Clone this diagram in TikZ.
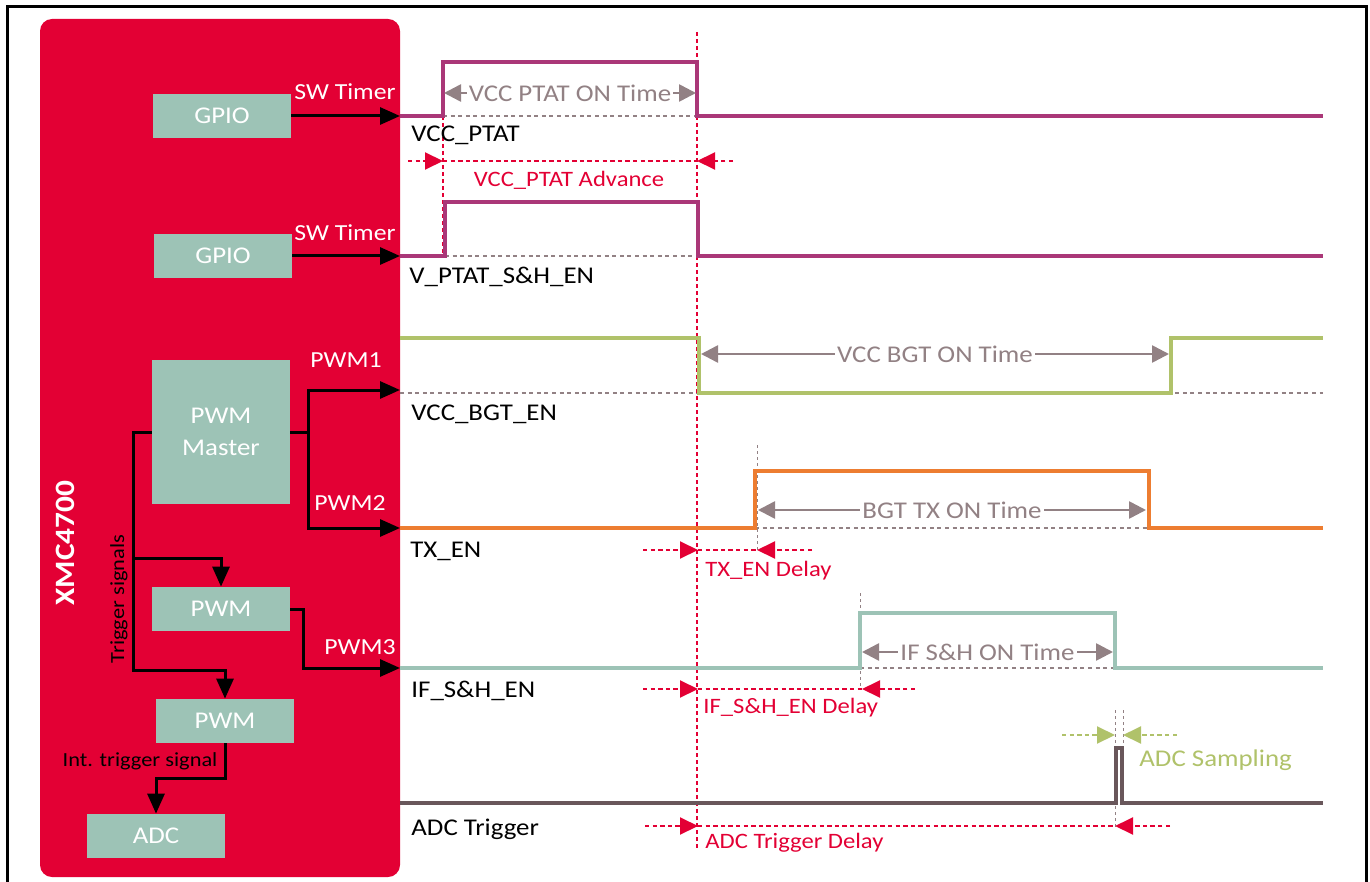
\documentclass[tikz,border=0pt]{standalone}
\usepackage{fontspec}
\setmainfont{Carlito}[FakeStretch=1.12]
\usetikzlibrary{arrows.meta}
\usetikzlibrary{positioning}

\definecolor{xmcred}{RGB}{227,0,52}
\definecolor{boxteal}{RGB}{157,195,182}
\definecolor{ptatpurple}{RGB}{170,55,120}
\definecolor{bgtgreen}{RGB}{176,194,106}
\definecolor{txorange}{RGB}{237,125,49}
\definecolor{adcgray}{RGB}{105,87,91}
\definecolor{dimgray}{RGB}{146,129,132}

\tikzset{
every node/.style={font=\fontsize{11.5}{14}\selectfont},
block/.style={ % Sets the properties for each module box
fill=boxteal, text=white, inner sep=0pt,
minimum width=69pt, minimum height=22pt,
align=center, font=\fontsize{12}{16}\selectfont},
wlabel/.style={text=white, inner sep=0pt},
small/.style={inner sep=0pt, font=\fontsize{10}{12}\selectfont},
sname/.style={anchor=west, inner sep=0pt, font=\fontsize{12}{14}\selectfont},
conn/.style={draw, line width=1.5pt, -{Triangle[length=10pt,width=8.5pt]}},
trace/.style={line width=2pt},
base/.style={dimgray, line width=1pt, dash pattern=on 2pt off 1.8pt},
vmark/.style={xmcred, line width=0.7pt, dash pattern=on 2pt off 1.5pt},
vtick/.style={dimgray, line width=0.5pt, dash pattern=on 1.5pt off 1.5pt},
ontime/.style={dimgray, line width=1.3pt,
{Triangle[length=8.5pt,width=8.5pt]}-{Triangle[length=8.5pt,width=8.5pt]}},
ontext/.style={fill=white, text=dimgray, inner sep=1pt, font=\fontsize{12}{14}\selectfont},
dline/.style={xmcred, line width=1pt, dash pattern=on 2.2pt off 1.6pt},
delay/.style={dline, -{Triangle[length=9pt,width=8.5pt]}},
sampling/.style={delay, bgtgreen},
dtext/.style={text=xmcred, inner sep=0pt, font=\fontsize{11}{13}\selectfont}}

\begin{document}
\begin{tikzpicture}[x=0.5pt, y=-0.5pt]
\useasboundingbox (0,0) rectangle (1370,882);
\draw[line width=1.5pt] (7,882) -- (7,7) -- (1366,7) -- (1366,882);
\fill[xmcred, rounded corners=6pt] (40,19) rectangle (400,877);
\node[rotate=90, text=white, font=\fontsize{14}{16}\selectfont\bfseries] (xmc) at (65,543) {XMC4700};

% modules inside the controller
\node[block] (gpio1) at (222,116) {GPIO};
\node[block] (gpio2) at (223,256) {GPIO};
\node[block, minimum height=72pt] (pwmm) at (221,432) {PWM\\Master};
\node[block] (pwma) at (221,609) {PWM};
\node[block] (pwmb) at (225,721) {PWM};
\node[block] (adc) at (156,836) {ADC};

% signal inputs
\coordinate (vcc) at (400,116);
\coordinate (sh) at (400,256);
\coordinate (bgt) at (400,390);
\coordinate (tx) at (400,528);
\coordinate (ifsh) at (400,668);
\coordinate (adctrig) at (400,803);

\draw[conn] (gpio1) -- (vcc);
\draw[conn] (gpio2) -- (sh);
\draw[conn] (pwmm.east) -- ++(18,0) |- (bgt);
\draw[conn] (pwmm.east) -- ++(18,0) |- (tx);
\draw[conn] (pwmm.west) -| (133,670) -| (pwmb.north);
\draw[conn] (133,558) -| (pwma.north);
\draw[conn] (pwma.east) -- ++(13,0) |- (ifsh);
\draw[conn] (pwmb.south) -- ++(0,35) -| (adc.north);

\node[wlabel] (sw1) at (345,92) {SW Timer};
\node[wlabel] (sw2) at (345,233) {SW Timer};
\node[wlabel] (pwm1) at (346,360) {PWM1};
\node[wlabel] (pwm2) at (350,503) {PWM2};
\node[wlabel] (pwm3) at (360,647) {PWM3};
\node[small, rotate=90] (trig) at (119,599) {Trigger signals};
\node[small] (inttrig) at (140,761) {Int. trigger signal};

% timing
\draw[base] (443,116) -- (697,116);
\draw[base] (445,256) -- (698,256);
\draw[base] (400,393) -- (1323,393);
\draw[base] (755,528) -- (1149,528);
\draw[base] (860,668) -- (1115,668);

\draw[vmark] (697,32) -- (697,850);
\draw[vmark] (443,116) -- (443,256);
\draw[vtick] (757,445) -- (757,550);
\draw[vtick] (860,593) -- (860,690);
\draw[vtick] (1115,710) -- (1115,830);
\draw[vtick] (1123,710) -- (1123,748);

\draw[trace, ptatpurple] (vcc) -- (443,116) -- (443,62) -- (697,62) -- (697,116) -- (1323,116);
\draw[trace, ptatpurple] (sh) -- (445,256) -- (445,202) -- (698,202) -- (698,256) -- (1323,256);
\draw[trace, bgtgreen] (400,338) -- (699,338) -- (699,393) -- (1171,393) -- (1171,338) -- (1323,338);
\draw[trace, txorange] (tx) -- (755,528) -- (755,471) -- (1149,471) -- (1149,528) -- (1323,528);
\draw[trace, boxteal] (ifsh) -- (860,668) -- (860,613) -- (1115,613) -- (1115,668) -- (1323,668);
\draw[trace, adcgray] (adctrig) -- (1116,803) -- (1116,748) -- (1122,748) -- (1122,803) -- (1323,803);

\draw[ontime] (444,93) -- node[ontext] (ptaton) {VCC PTAT ON Time} (696,93);
\draw[ontime] (701,354) -- node[ontext] (bgton) {VCC BGT ON Time} (1169,354);
\draw[ontime] (758,510) -- node[ontext] (txon) {BGT TX ON Time} (1146,510);
\draw[ontime] (862,652) -- node[ontext] (ifon) {IF S\&H ON Time} (1113,652);

\node[sname] (lvcc) at (411,135) {VCC\_PTAT};
\node[sname] (lsh) at (409,277) {V\_PTAT\_S\&H\_EN};
\node[sname] (lbgt) at (411,414) {VCC\_BGT\_EN};
\node[sname] (ltx) at (410,551) {TX\_EN};
\node[sname] (lif) at (411,691) {IF\_S\&H\_EN};
\node[sname] (ladc) at (411,829) {ADC Trigger};

% delays
\draw[delay] (408,161) -- (443,161);
\draw[dline] (443,161) -- (697,161);
\draw[delay] (733,161) -- (697,161);
\node[dtext] (adv) at (569,180) {VCC\_PTAT Advance};

\draw[delay] (643,550) -- (698,550);
\draw[dline] (698,550) -- (757,550);
\draw[delay] (812,550) -- (757,550);
\node[dtext, anchor=west] (txd) at (705,571) {TX\_EN Delay};

\draw[delay] (643,689) -- (698,689);
\draw[dline] (698,689) -- (862,689);
\draw[delay] (915,689) -- (862,689);
\node[dtext, anchor=west] (ifd) at (703,708) {IF\_S\&H\_EN Delay};

\draw[delay] (645,826) -- (698,826);
\draw[dline] (698,826) -- (1115,826);
\draw[delay] (1170,826) -- (1115,826);
\node[dtext, anchor=west] (adcd) at (705,843) {ADC Trigger Delay};

\draw[sampling] (1062,735) -- (1115,735);
\draw[sampling] (1177,735) -- (1123,735);
\node[text=bgtgreen, anchor=west, inner sep=0pt, font=\fontsize{12}{14}\selectfont] (samp) at (1139,760) {ADC Sampling};
\end{tikzpicture}
\end{document}
